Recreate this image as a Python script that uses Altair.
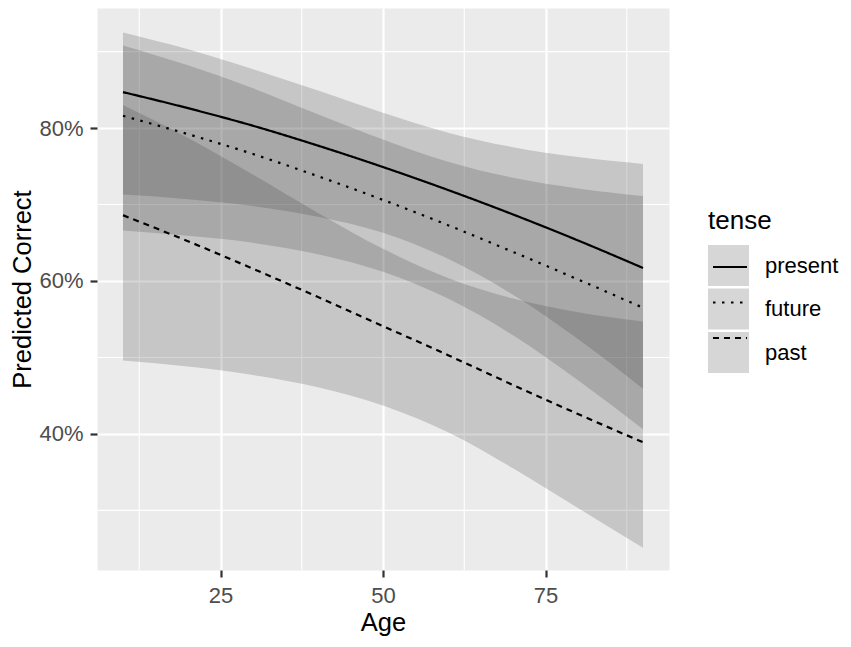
import altair as alt
import pandas as pd

# ---- data ----
AGE = [10, 20, 30, 40, 50, 60, 70, 80, 90]
TENSES = ["present", "future", "past"]

PRESENT_FIT = [0.847, 0.826, 0.803, 0.777, 0.749, 0.719, 0.687, 0.653, 0.617]
PRESENT_LO = [0.713, 0.707, 0.698, 0.684, 0.663, 0.629, 0.582, 0.524, 0.459]
PRESENT_HI = [0.925, 0.903, 0.877, 0.849, 0.820, 0.794, 0.775, 0.762, 0.753]

FUTURE_FIT = [0.816, 0.792, 0.766, 0.737, 0.706, 0.673, 0.638, 0.602, 0.565]
FUTURE_LO = [0.666, 0.659, 0.650, 0.635, 0.612, 0.577, 0.529, 0.470, 0.406]
FUTURE_HI = [0.908, 0.882, 0.852, 0.818, 0.785, 0.756, 0.735, 0.721, 0.711]

PAST_FIT = [0.686, 0.652, 0.616, 0.579, 0.541, 0.503, 0.464, 0.426, 0.389]
PAST_LO = [0.496, 0.488, 0.477, 0.461, 0.437, 0.402, 0.355, 0.303, 0.251]
PAST_HI = [0.830, 0.787, 0.739, 0.689, 0.642, 0.604, 0.577, 0.559, 0.547]

MAJOR_X = [25, 50, 75]
MINOR_X = [12.5, 37.5, 62.5, 87.5]
MAJOR_Y = [0.4, 0.6, 0.8]
MINOR_Y = [0.3, 0.5, 0.7, 0.9]
X_DOMAIN = [6, 94]
Y_DOMAIN = [0.222, 0.957]

DASHES = [[1, 0], [2.5, 6.5], [6, 5]]
FONT = "Liberation Sans"

rows = []
for tense, fit, lo, hi in [
    ("present", PRESENT_FIT, PRESENT_LO, PRESENT_HI),
    ("future", FUTURE_FIT, FUTURE_LO, FUTURE_HI),
    ("past", PAST_FIT, PAST_LO, PAST_HI),
]:
    for a, f, l, h in zip(AGE, fit, lo, hi):
        rows.append({"age": a, "tense": tense, "fit": f, "lo": l, "hi": h})
df = pd.DataFrame(rows)

x_scale = alt.Scale(domain=X_DOMAIN, nice=False, zero=False)
y_scale = alt.Scale(domain=Y_DOMAIN, nice=False, zero=False)

x_axis = alt.Axis(values=MAJOR_X, title="Age", labelPadding=8, titlePadding=4)
y_axis = alt.Axis(values=MAJOR_Y, format=".0%", title="Predicted Correct",
                  labelPadding=7, titlePadding=3)

minor_x = alt.Chart(pd.DataFrame({"v": MINOR_X})).mark_rule(
    color="white", strokeWidth=1.1
).encode(x=alt.X("v:Q", scale=x_scale, axis=x_axis))

minor_y = alt.Chart(pd.DataFrame({"v": MINOR_Y})).mark_rule(
    color="white", strokeWidth=1.1
).encode(y=alt.Y("v:Q", scale=y_scale, axis=y_axis))

LEG_X = 611
LEG_Y = 200

bands = alt.Chart(df).mark_area(fillOpacity=0.2, interpolate="monotone").encode(
    x=alt.X("age:Q", scale=x_scale, axis=x_axis),
    y=alt.Y("lo:Q", scale=y_scale, axis=y_axis),
    y2="hi:Q",
    fill=alt.Fill(
        "tense:N",
        scale=alt.Scale(domain=TENSES, range=["#333333", "#333333", "#333333"]),
        legend=alt.Legend(
            title="tense", orient="none", legendX=LEG_X, legendY=LEG_Y,
            symbolType="square", symbolSize=1681, symbolOpacity=0.2,
            symbolStrokeWidth=0, labelFontSize=22, labelColor="black",
            labelFont=FONT, titleFont=FONT, titleFontSize=26,
            titleColor="black", titleFontWeight="normal",
            labelOffset=16, rowPadding=2.5, titlePadding=11,
        ),
    ),
)

lines = alt.Chart(df).transform_calculate(tense_line="datum.tense").mark_line(
    color="black", strokeWidth=2.2, interpolate="monotone"
).encode(
    x=alt.X("age:Q", scale=x_scale, axis=x_axis),
    y=alt.Y("fit:Q", scale=y_scale, axis=y_axis),
    strokeDash=alt.StrokeDash(
        "tense_line:N", sort=TENSES,
        scale=alt.Scale(range=DASHES),
        legend=alt.Legend(
            title=" ", orient="none", legendX=LEG_X, legendY=LEG_Y,
            symbolType="M-0.83,0H0.83", symbolSize=1681,
            symbolStrokeColor="black", symbolStrokeWidth=2.2,
            symbolFillColor="transparent",
            labelFontSize=22, labelFont=FONT, labelExpr="''",
            titleFont=FONT, titleFontSize=26, titleOpacity=0,
            titleFontWeight="normal",
            labelOffset=16, rowPadding=2.5, titlePadding=11,
        ),
    ),
)

chart = alt.layer(minor_x, minor_y, bands, lines).properties(
    width=572,
    height=562,
    padding={"left": 89, "top": 0, "right": 173, "bottom": 69},
    autosize=alt.AutoSizeParams(type="none"),
).configure_view(
    fill="#EBEBEB", stroke="transparent"
).configure_axis(
    grid=True, gridColor="white", gridWidth=2.2, domain=False,
    tickColor="#333333", tickWidth=2.2, tickSize=7,
    labelFont=FONT, labelFontSize=22, labelColor="#4D4D4D",
    titleFont=FONT, titleFontSize=25.5, titleColor="black",
    titleFontWeight="normal",
)

chart.save("out.html", embed_options={"renderer": "svg", "actions": False})
